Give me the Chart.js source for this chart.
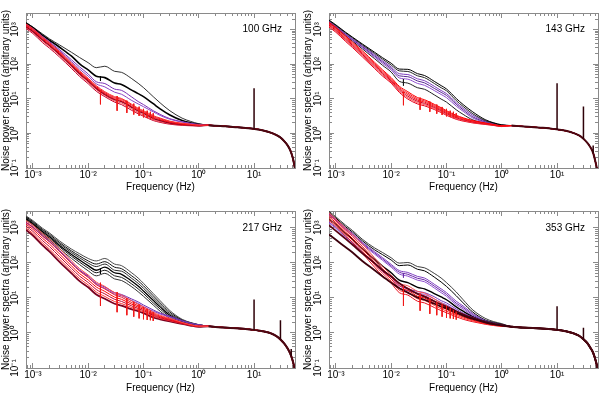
<!DOCTYPE html>
<html><head><meta charset="utf-8">
<script src="https://cdn.jsdelivr.net/npm/chart.js@4/dist/chart.umd.min.js"></script>
<style>
html,body{margin:0;padding:0;background:#fff;width:600px;height:397px;overflow:hidden}
canvas{position:absolute}
</style></head><body>
<canvas id="c100" width="300" height="198" style="left:0;top:0;width:300px;height:198px"></canvas>
<canvas id="c143" width="300" height="198" style="left:300px;top:0;width:300px;height:198px"></canvas>
<canvas id="c217" width="300" height="199" style="left:0;top:198px;width:300px;height:199px"></canvas>
<canvas id="c353" width="300" height="199" style="left:300px;top:198px;width:300px;height:199px"></canvas>
<script>
// ---------- axes / ticks ----------
const xMajor = [0.001, 0.01, 0.1, 1, 10];
const xTickLabels = ['10⁻³', '10⁻²', '10⁻¹', '10⁰', '10¹'];
const yMajor = [0.1, 1, 10, 100, 1000];
const yTickLabels = ['10⁻¹', '10⁰', '10¹', '10²', '10³'];
const X_MIN = 0.00075, X_MAX = 55, Y_MIN = 0.1, Y_MAX = 3000;
const xTitle = 'Frequency (Hz)';
const yTitle = 'Noise power spectra (arbitrary units)';

// ---------- frequency grids ----------
const freqLow = [0.00075, 0.001, 0.0015, 0.002, 0.003, 0.005, 0.007, 0.01, 0.014, 0.02, 0.03, 0.04, 0.06, 0.08, 0.1, 0.15, 0.2, 0.3, 0.5, 0.7, 1];
const freqTail = [1.5, 2, 3, 5, 7, 9, 12, 15, 20, 25, 30, 35, 40, 45, 50, 53, 56];
const notchFreq = [0.01667, 0.03333, 0.05, 0.06667, 0.08333, 0.1, 0.11667, 0.13333, 0.15];
const darkNotchFreq = [0.01667];

// ---------- 100 GHz ----------
const tail100 = [1.72, 1.66, 1.6, 1.5, 1.44, 1.38, 1.3, 1.2, 1.05, 0.9, 0.76, 0.6, 0.46, 0.33, 0.2, 0.13, 0.08];
const black1_100 = [1600, 1175, 740, 537, 363, 219, 155, 110, 79, 87, 62, 58, 39, 28, 21, 11.5, 7.6, 4.5, 2.75, 2.24, 1.9];
const black2_100 = [1535, 1130, 679, 490, 313, 170, 102, 68, 45, 40.8, 28.3, 26, 18.1, 14.1, 11.5, 7.2, 5.1, 3.4, 2.35, 2.04, 1.84];
const purple1_100 = [1413, 1063, 626, 443, 266, 133, 83, 52, 31, 27.5, 19, 17.5, 11.5, 8.32, 6.79, 4.52, 3.54, 2.66, 2.17, 1.96, 1.81];
const purple2_100 = [1350, 1020, 590, 415, 245, 118, 72, 45, 27, 22, 15.5, 13.5, 9.1, 7.1, 5.9, 4.2, 3.3, 2.56, 2.12, 1.92, 1.77];
const redA_100 = [1443, 1063, 601, 416, 235, 108, 64, 39, 24, 16.0, 11.5, 10.2, 7.07, 5.32, 4.52, 3.26, 2.77, 2.26, 1.96, 1.84, 1.73];
const redB_100 = [1358, 1000, 565, 392, 221, 102, 60, 36.8, 22.5, 15.0, 10.8, 9.6, 6.65, 5.0, 4.25, 3.07, 2.66, 2.17, 1.92, 1.81, 1.70];
const redC_100 = [1277, 940, 532, 368, 208, 96, 56.5, 34.7, 21.2, 14.1, 10.0, 8.85, 6.13, 4.71, 4.0, 2.89, 2.5, 2.08, 1.84, 1.77, 1.70];
const redD_100 = [1202, 885, 500, 347, 196, 90, 53, 32.6, 19.9, 13.3, 9.4, 8.32, 5.77, 4.43, 3.76, 2.72, 2.35, 2.0, 1.81, 1.73, 1.66];
const redE_100 = [1130, 832, 461, 319, 181, 83, 49, 30, 18.4, 12.5, 8.67, 7.5, 5.21, 4.0, 3.4, 2.5, 2.21, 1.92, 1.73, 1.70, 1.66];
const redF_100 = [1063, 767, 416, 288, 163, 75, 44, 27.2, 16.5, 11.5, 8.0, 6.79, 4.71, 3.68, 3.13, 2.35, 2.08, 1.84, 1.70, 1.66, 1.63];
const notchTop100 = [18, 12, 8.8, 7.2, 5.9, 5.1, 4.5, 4.2, 3.8];
const notchBot100 = [6.9, 4.5, 3.9, 3.5, 3.2, 2.9, 2.8, 2.6, 2.55];
const darkTop100 = [44];
const darkBot100 = [33];
const spikeFreq100 = [10];
const spikeBase100 = [1.35];
const spikeTop100 = [20];

// ---------- 143 GHz ----------
const tail143 = [1.68, 1.62, 1.55, 1.46, 1.4, 1.33, 1.25, 1.17, 1.02, 0.87, 0.7, 0.54, 0.4, 0.27, 0.14, 0.09, 0.05];
const T1_143 = [1880, 1358, 832, 601, 384, 221, 153, 106, 72, 70.8, 53, 47, 31.9, 24, 19.2, 10.2, 6.8, 4.16, 2.5, 2.04, 1.77];
const T2_143 = [1805, 1303, 800, 577, 361, 204, 139, 94, 64, 61.4, 46, 40.8, 27.7, 20.8, 17, 8.85, 6.0, 3.68, 2.35, 2.0, 1.73];
const T3_143 = [1734, 1250, 752, 543, 340, 188, 125, 83, 53, 50, 37.6, 33.3, 23, 17.3, 14.1, 7.67, 5.32, 3.33, 2.26, 1.96, 1.73];
const T4_143 = [1665, 1202, 721, 511, 319, 173, 115, 75, 46, 43.4, 32.6, 28.8, 20, 15.3, 12.5, 6.93, 4.8, 3.0, 2.17, 1.92, 1.70];
const T5_143 = [1600, 1153, 693, 490, 300, 160, 104, 68, 40, 36.8, 27.7, 24.5, 17.3, 13.3, 10.8, 6.13, 4.34, 2.77, 2.08, 1.88, 1.70];
const T6_143 = [1535, 1107, 652, 461, 277, 144, 92, 59, 31.9, 28.3, 20.8, 18.8, 13, 9.8, 8.0, 4.8, 3.54, 2.45, 2.0, 1.84, 1.66];
const R1_143 = [1600, 1153, 652, 434, 245, 113, 68, 40.8, 23, 16, 10.8, 9.4, 6.93, 5.53, 4.52, 3.33, 2.82, 2.35, 2.0, 1.81, 1.66];
const R2_143 = [1505, 1080, 606, 403, 226, 104, 62.6, 37.9, 21.2, 14.5, 9.9, 8.67, 6.47, 5.18, 4.25, 3.16, 2.70, 2.27, 1.96, 1.79, 1.64];
const R3_143 = [1415, 1012, 563, 374, 208, 96, 57.7, 35.2, 19.5, 13.2, 9.1, 8.0, 6.03, 4.85, 4.0, 2.99, 2.58, 2.20, 1.92, 1.77, 1.62];
const R4_143 = [1331, 948, 523, 348, 192, 88.5, 53.1, 32.7, 18.0, 11.9, 8.4, 7.37, 5.63, 4.55, 3.76, 2.84, 2.47, 2.13, 1.88, 1.75, 1.60];
const R5_143 = [1252, 888, 486, 323, 177, 81.6, 48.9, 30.4, 16.6, 10.8, 7.7, 6.8, 5.25, 4.26, 3.54, 2.69, 2.36, 2.06, 1.84, 1.73, 1.58];
const R6_143 = [1178, 832, 452, 300, 163, 75, 45, 28.3, 15.3, 9.8, 7.07, 6.25, 4.9, 4.0, 3.33, 2.55, 2.26, 2.0, 1.81, 1.70, 1.57];
const notchTop143 = [16, 10.8, 8.3, 6.8, 5.8, 5.1, 4.5, 4.2, 3.8];
const notchBot143 = [6.5, 4.8, 4.2, 3.7, 3.4, 3.1, 3.0, 2.9, 2.8];
const darkTop143 = [37];
const darkBot143 = [24];
const spikeFreq143 = [10, 30, 45];
const spikeBase143 = [1.3, 0.7, 0.27];
const spikeTop143 = [28, 6, 0.45];

// ---------- 217 GHz ----------
const tail217 = [1.55, 1.48, 1.42, 1.35, 1.3, 1.24, 1.17, 1.1, 0.98, 0.82, 0.65, 0.5, 0.37, 0.26, 0.16, 0.11, 0.07];
const B1_217 = [2170, 1600, 960, 708, 425, 245, 181, 133, 113, 133, 92, 83, 53, 36.8, 26, 13.3, 8.32, 4.34, 2.45, 2.0, 1.73];
const B2_217 = [2042, 1503, 885, 652, 384, 217, 157, 113, 92, 108, 75, 68, 43.4, 30.7, 22.1, 11.5, 7.2, 3.92, 2.35, 1.96, 1.70];
const B3_217 = [1959, 1413, 832, 601, 354, 196, 139, 98, 78, 92, 61.4, 57.7, 36.8, 26, 18.8, 10, 6.38, 3.54, 2.26, 1.92, 1.70];
const B4_217 = [1841, 1330, 767, 554, 319, 173, 120, 83, 61.4, 75, 52, 47, 30.7, 21.7, 15.7, 8.5, 5.53, 3.19, 2.17, 1.88, 1.66];
const B5_217 = [1734, 1250, 708, 500, 288, 153, 104, 70.8, 52, 61.4, 42.5, 38.4, 25.5, 18.1, 13.3, 7.2, 4.8, 2.89, 2.08, 1.84, 1.66];
const B6_217 = [1630, 1178, 652, 452, 255, 133, 88.5, 59, 42.5, 50, 34.7, 31.3, 21.2, 15, 11.1, 6.25, 4.16, 2.61, 2.0, 1.81, 1.63];
const P1_217 = [1443, 1063, 601, 416, 226, 104, 61.4, 42.5, 26, 20.4, 14.1, 12.5, 9.4, 7.67, 6.25, 4.52, 3.68, 3.0, 2.26, 1.92, 1.70];
const P2_217 = [1358, 1000, 565, 392, 212, 98, 60, 40, 24, 18.8, 13, 11.5, 8.5, 6.93, 5.65, 4.16, 3.47, 2.82, 2.17, 1.88, 1.70];
const R1_217 = [1600, 1178, 679, 471, 255, 113, 68, 45, 28.3, 21.2, 14.1, 12, 8.32, 6.52, 5.53, 3.92, 3.19, 2.61, 2.0, 1.73, 1.57];
const R2_217 = [1416, 1030, 581, 400, 215, 95.9, 57.7, 38.2, 24.0, 18.0, 12.2, 10.45, 7.45, 5.96, 5.10, 3.66, 3.02, 2.51, 1.96, 1.71, 1.56];
const R3_217 = [1253, 900, 497, 340, 181, 81.4, 49.0, 32.4, 20.4, 15.3, 10.5, 9.1, 6.68, 5.45, 4.70, 3.41, 2.87, 2.41, 1.92, 1.69, 1.55];
const R4_217 = [1109, 787, 426, 289, 153, 69.1, 41.6, 27.5, 17.3, 13.0, 9.1, 7.93, 5.98, 4.98, 4.33, 3.18, 2.72, 2.31, 1.88, 1.67, 1.53];
const R5_217 = [981, 688, 364, 245, 129, 58.7, 35.3, 23.4, 14.7, 11.0, 7.86, 6.9, 5.36, 4.55, 4.0, 2.97, 2.58, 2.22, 1.85, 1.65, 1.52];
const R6_217 = [867, 601, 313, 208, 108, 50, 30, 20, 12.5, 9.4, 6.79, 6.0, 4.8, 4.16, 3.68, 2.77, 2.45, 2.12, 1.81, 1.63, 1.50];
const notchTop217 = [27, 14.7, 9.8, 7.7, 6.5, 5.5, 4.8, 4.3, 3.9];
const notchBot217 = [5.9, 3.9, 3.2, 2.9, 2.6, 2.45, 2.35, 2.3, 2.2];
const darkTop217 = [68];
const darkBot217 = [48];
const spikeFreq217 = [10, 30, 47];
const spikeBase217 = [1.2, 0.65, 0.22];
const spikeTop217 = [9, 2.3, 0.35];

// ---------- 353 GHz ----------
const tail353 = [1.5, 1.45, 1.4, 1.34, 1.3, 1.25, 1.18, 1.1, 0.97, 0.83, 0.66, 0.52, 0.38, 0.27, 0.16, 0.11, 0.07];
const K1_353 = [2944, 2042, 1178, 832, 471, 266, 196, 139, 98, 102, 78, 72, 50, 36.8, 27.2, 14.7, 8.85, 4.52, 2.61, 2.12, 1.84];
const K2_353 = [2661, 1880, 1063, 752, 425, 235, 170, 120, 83, 86.7, 65.2, 59, 39.2, 28.3, 21.2, 11.5, 7.2, 3.92, 2.35, 2.0, 1.77];
const P1_353 = [2500, 1734, 980, 693, 384, 208, 140, 90, 60, 53, 40.8, 36.8, 24.5, 18.1, 14.1, 8.0, 5.89, 3.54, 2.26, 1.92, 1.73];
const P2_353 = [2404, 1665, 922, 652, 361, 192, 128, 82, 54, 47, 36.1, 32.6, 21.7, 16, 12.5, 7.07, 5.32, 3.26, 2.17, 1.88, 1.70];
const P3_353 = [2306, 1600, 867, 614, 340, 177, 117, 75, 48, 41.6, 31.9, 28.8, 19.2, 14.1, 11.1, 6.38, 4.8, 3.0, 2.08, 1.84, 1.70];
const K3_353 = [1770, 1250, 679, 471, 255, 125, 80, 52, 31.9, 27.2, 20, 18.1, 13.3, 10.6, 8.85, 5.53, 4.16, 2.89, 2.12, 1.88, 1.70];
const Q1_353 = [1443, 1020, 554, 384, 208, 100, 61.4, 39.2, 22.1, 18.1, 15.3, 14.1, 10.8, 8.32, 7.2, 4.8, 3.68, 2.77, 2.08, 1.84, 1.66];
const Q2_353 = [1358, 960, 511, 354, 192, 90, 55.4, 34.7, 19.2, 16, 13.6, 12.5, 9.4, 7.36, 6.38, 4.34, 3.4, 2.61, 2.04, 1.81, 1.66];
const R1_353 = [2661, 1770, 960, 638, 347, 139, 78, 45, 26, 22.1, 15.3, 13.6, 9.4, 7.07, 5.89, 4.16, 3.33, 2.61, 2.0, 1.77, 1.63];
const R2_353 = [2355, 1567, 850, 565, 297, 119, 67.2, 39.2, 22.4, 19.0, 13.0, 11.5, 8.16, 6.25, 5.26, 3.80, 3.08, 2.46, 1.94, 1.73, 1.60];
const R3_353 = [2061, 1400, 745, 495, 255, 102, 57.7, 34.3, 19.2, 16.3, 11.1, 9.9, 7.07, 5.53, 4.71, 3.47, 2.86, 2.33, 1.88, 1.70, 1.58];
const R4_353 = [1815, 1245, 652, 436, 219, 87.5, 49.5, 29.9, 16.5, 14.0, 9.4, 8.5, 6.13, 4.9, 4.21, 3.16, 2.65, 2.20, 1.82, 1.66, 1.56];
const R5_353 = [1600, 1107, 577, 384, 188, 75, 42.5, 26, 14.1, 12, 8.0, 7.2, 5.32, 4.34, 3.76, 2.89, 2.45, 2.08, 1.77, 1.63, 1.53];
const M1_353 = [1178, 816, 480, 326, 188, 98, 61.4, 40.8, 26, 18.1, 13, 10.8, 8.0, 6.52, 5.65, 4.16, 3.4, 2.66, 2.04, 1.81, 1.66];
const M2_353 = [638, 452, 277, 196, 113, 61.4, 40.8, 27.2, 18.8, 14.1, 10.2, 8.85, 6.79, 5.65, 5.0, 3.76, 3.13, 2.5, 2.0, 1.77, 1.63];
const notchTop353 = [22, 13.3, 9.8, 7.7, 6.5, 5.9, 5.0, 4.5, 4.0];
const notchBot353 = [5.9, 4.3, 3.5, 3.2, 2.9, 2.7, 2.6, 2.5, 2.4];
const darkTop353 = [50];
const darkBot353 = [38];
const spikeFreq353 = [10, 30];
const spikeBase353 = [1.22, 0.66];
const spikeTop353 = [5.8, 1.4];

// ---------- styling ----------
const FONT = "'Liberation Sans', Arial, Helvetica, sans-serif";
const AXIS_COLOR = '#8a8a8a';
Chart.defaults.font.family = FONT;
Chart.defaults.font.size = 10;
Chart.defaults.color = '#000';

const panels = [
  { id: 'c100', label: '100 GHz', tail: tail100,
    curves: [
      [black1_100, '#1c1c1c', 0.9], [black2_100, '#000000', 1.6],
      [purple1_100, '#7a2fb5', 1], [purple2_100, '#8c43c4', 1],
      [redF_100, '#c4002c', 1], [redE_100, '#ff4a4a', 1], [redD_100, '#8e0026', 1.4],
      [redC_100, '#ff0000', 1], [redB_100, '#e0142a', 1], [redA_100, '#ff2a2a', 1]
    ],
    notch: [notchTop100, notchBot100], dark: [darkTop100, darkBot100, '#000'],
    spikes: [spikeFreq100, spikeBase100, spikeTop100],
    g: { yW: 26, xH: 30, padR: 5, padT: 0, yTitlePad: 0, xTitlePad: 4.5, labelDy: 16 } },
  { id: 'c143', label: '143 GHz', tail: tail143,
    curves: [
      [T6_143, '#202020', 1], [T5_143, '#8f4fd0', 1], [T4_143, '#5a2a92', 1],
      [T3_143, '#7d3dbd', 1], [T2_143, '#262626', 1], [T1_143, '#000000', 1],
      [R6_143, '#e2001c', 1], [R5_143, '#ff4040', 1], [R4_143, '#c8002a', 1],
      [R3_143, '#ff1010', 1], [R2_143, '#f02030', 1], [R1_143, '#ff0000', 1]
    ],
    notch: [notchTop143, notchBot143], dark: [darkTop143, darkBot143, '#1a1a1a'],
    spikes: [spikeFreq143, spikeBase143, spikeTop143],
    g: { yW: 29, xH: 30, padR: 2, padT: 0, yTitlePad: 2, xTitlePad: 4.5, labelDy: 16 } },
  { id: 'c217', label: '217 GHz', tail: tail217,
    curves: [
      [B6_217, '#303030', 1], [B5_217, '#1a1a1a', 1], [B4_217, '#000000', 1.3],
      [B3_217, '#2a2a2a', 1], [B2_217, '#111111', 1], [B1_217, '#3a3a3a', 0.9],
      [P2_217, '#8a48c8', 1], [P1_217, '#7030b0', 1],
      [R6_217, '#7a0020', 1.8], [R5_217, '#ff3030', 1], [R4_217, '#c0002a', 1],
      [R3_217, '#ff0000', 1], [R2_217, '#e81828', 1], [R1_217, '#ff4848', 1]
    ],
    notch: [notchTop217, notchBot217], dark: [darkTop217, darkBot217, '#000'],
    spikes: [spikeFreq217, spikeBase217, spikeTop217],
    g: { yW: 26, xH: 29, padR: 5, padT: 1, yTitlePad: 0, xTitlePad: 3, labelDy: 17 } },
  { id: 'c353', label: '353 GHz', tail: tail353,
    curves: [
      [K1_353, '#2a2a2a', 0.9], [K2_353, '#000000', 1],
      [P1_353, '#7f3fc0', 1], [P2_353, '#6a2ca8', 1], [P3_353, '#9050d0', 1],
      [K3_353, '#000000', 1.4], [Q1_353, '#7a3ab8', 1], [Q2_353, '#9455cc', 1],
      [R5_353, '#e8101e', 1], [R4_353, '#ff3a3a', 1], [R3_353, '#ff0000', 1],
      [R2_353, '#f02030', 1], [R1_353, '#ff5050', 1],
      [M1_353, '#5a0012', 1.8], [M2_353, '#3c000c', 1.8]
    ],
    notch: [notchTop353, notchBot353], dark: [darkTop353, darkBot353, '#6a2ca8'],
    spikes: [spikeFreq353, spikeBase353, spikeTop353],
    g: { yW: 29, xH: 29, padR: 2, padT: 1, yTitlePad: 2, xTitlePad: 3, labelDy: 17 } }
];

// minor tick positions (2..9 x 10^n) inside a range
function minorTicks(lo, hi) {
  const out = [];
  for (let e = -5; e <= 4; e++) {
    for (let m = 2; m <= 9; m++) {
      const v = Number((m * Math.pow(10, e)).toPrecision(6));
      if (v > lo && v < hi) out.push(v);
    }
  }
  return out;
}
const xMinor = minorTicks(X_MIN, X_MAX);
const yMinor = minorTicks(Y_MIN, Y_MAX);

function axis(position, values, tickLen, size, weight, extra) {
  const horizontal = position === 'top' || position === 'bottom';
  const base = {
    type: 'logarithmic',
    position: position,
    weight: weight,
    bounds: 'data',
    min: horizontal ? X_MIN : Y_MIN,
    max: horizontal ? X_MAX : Y_MAX,
    afterBuildTicks: function (s) { s.ticks = values.map(function (v) { return { value: v }; }); },
    afterFit: function (s) { if (horizontal) { s.height = size; } else { s.width = size; } },
    grid: { display: true, drawOnChartArea: false, drawTicks: true, tickLength: -tickLen,
            color: AXIS_COLOR, tickColor: AXIS_COLOR, tickWidth: 1, lineWidth: 1 },
    border: { display: true, color: AXIS_COLOR, width: 1 },
    ticks: { display: false, autoSkip: false },
    title: { display: false }
  };
  return Object.assign(base, extra || {});
}

function seg(freqs, lows, highs) {
  const pts = [];
  freqs.forEach(function (f, i) {
    pts.push({ x: f, y: highs[i] }, { x: f, y: lows[i] }, { x: f, y: null });
  });
  return pts;
}

const panelLabel = {
  id: 'panelLabel',
  afterDatasetsDraw: function (chart, args, opts) {
    const ctx = chart.ctx, a = chart.chartArea;
    ctx.save();
    ctx.font = '10px ' + FONT;
    ctx.fillStyle = '#000';
    ctx.textAlign = 'right';
    ctx.textBaseline = 'middle';
    ctx.fillText(opts.text, a.right - 13, a.top + opts.dy);
    ctx.restore();
  }
};

const freqAll = freqLow.concat(freqTail);

panels.forEach(function (p) {
  const g = p.g;
  const n = p.curves.length;
  const datasets = p.curves.map(function (c, i) {
    const vals = c[0].concat(p.tail);
    return {
      data: freqAll.map(function (f, k) { return { x: f, y: vals[k] }; }),
      borderColor: c[1], borderWidth: c[2], pointRadius: 0, fill: false,
      cubicInterpolationMode: 'monotone', order: n - i + 5
    };
  });
  datasets.push({
    data: seg(notchFreq, p.notch[1], p.notch[0]),
    borderColor: '#f01818', borderWidth: 1, pointRadius: 0, fill: false, order: 3
  });
  datasets.push({
    data: seg(darkNotchFreq, p.dark[1], p.dark[0]),
    borderColor: p.dark[2], borderWidth: 1, pointRadius: 0, fill: false, order: 2
  });
  datasets.push({
    data: freqTail.map(function (f, k) { return { x: f, y: p.tail[k] }; }),
    borderColor: '#4a0812', borderWidth: 2, pointRadius: 0, fill: false,
    cubicInterpolationMode: 'monotone', order: 1
  });
  datasets.push({
    data: seg(p.spikes[0], p.spikes[1], p.spikes[2]),
    borderColor: '#2e0008', borderWidth: 1.5, pointRadius: 0, fill: false, order: 0
  });

  const scales = {
    xm: axis('bottom', xMinor, 3, 0, 0),
    x: axis('bottom', xMajor, 5, g.xH, 1, {
      ticks: { display: true, autoSkip: false, maxRotation: 0, minRotation: 0, padding: 6,
               color: '#000', font: { family: FONT, size: 10 },
               callback: function (v) { const i = xMajor.indexOf(v); return i >= 0 ? xTickLabels[i] : ''; } },
      title: { display: true, text: xTitle, color: '#000', font: { family: FONT, size: 10 },
               padding: { top: 0, bottom: g.xTitlePad } }
    }),
    xtm: axis('top', xMinor, 3, 0, 0),
    xt: axis('top', xMajor, 5, 0, 1),
    ym: axis('left', yMinor, 3, 0, 0),
    y: axis('left', yMajor, 5, g.yW, 1, {
      ticks: { display: true, autoSkip: false, minRotation: 90, maxRotation: 90, crossAlign: 'center',
               padding: 7, color: '#000', font: { family: FONT, size: 10 },
               callback: function (v) { const i = yMajor.indexOf(v); return i >= 0 ? yTickLabels[i] : ''; } },
      title: { display: true, text: yTitle, color: '#000', font: { family: FONT, size: 10 },
               padding: { top: g.yTitlePad, bottom: 0 } }
    }),
    yrm: axis('right', yMinor, 3, 0, 0),
    yr: axis('right', yMajor, 5, 0, 1)
  };

  new Chart(document.getElementById(p.id), {
    type: 'line',
    data: { datasets: datasets },
    options: {
      responsive: false, animation: false, events: [],
      layout: { autoPadding: false, padding: { left: 0, right: g.padR, top: g.padT, bottom: 0 } },
      plugins: { legend: { display: false }, tooltip: { enabled: false },
                 panelLabel: { text: p.label, dy: g.labelDy } },
      elements: { point: { radius: 0 }, line: { tension: 0 } },
      scales: scales
    },
    plugins: [panelLabel]
  });
});
</script>
</body></html>
